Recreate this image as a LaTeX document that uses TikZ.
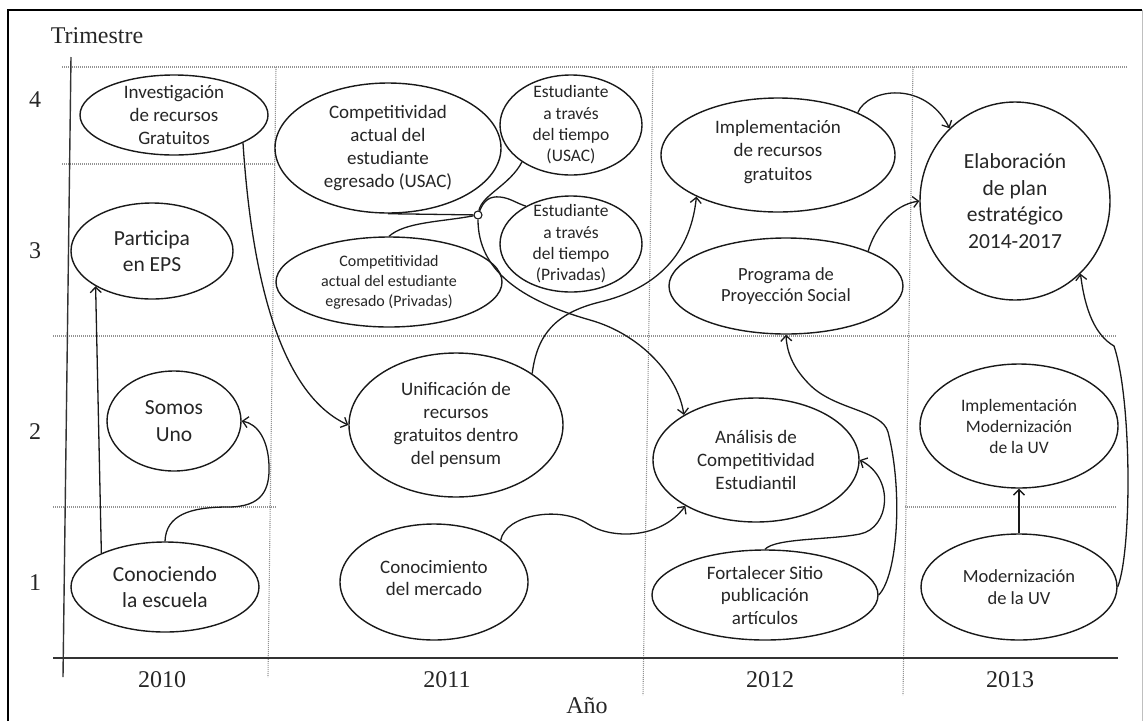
\documentclass[tikz,border=0pt]{standalone}
\usepackage{fontspec}
\setmainfont{Liberation Serif}
\newfontfamily\calfont{Carlito}
\usetikzlibrary{shapes.geometric,arrows.meta}

\begin{document}
\begin{tikzpicture}[x=1pt,y=-1pt,
  ell/.style={ellipse,draw=black!90,fill=white,line width=1.4pt,inner sep=0pt},
  txt/.style n args={2}{font=\calfont\fontsize{#1}{#2}\selectfont,align=center,inner sep=0pt,text=black!85},
  conn/.style={line width=1.3pt,black!90},
  arr/.style={conn,-{Straight Barb[length=5.5pt,width=11pt]}},
  gridline/.style={gray!85,line width=1.1pt,dash pattern=on 1pt off 1pt},
  axisline/.style={line width=1.4pt,black!80},
  axislab/.style={font=\fontsize{24}{28}\selectfont,inner sep=0pt,text=black!85}
]
\useasboundingbox (0,0) rectangle (1144,721);

% outer frame
\draw[line width=2.5pt] (8,721) -- (8,10) -- (1142,10);
\draw[gray!50,line width=1pt] (1142,10) -- (1142,721);

% quarter / year grid
\draw[gridline] (62,67) -- (1127,67);
\draw[gridline] (62,164) -- (276,164);
\draw[gridline] (53,336) -- (1117,336);
\draw[gridline] (53,507) -- (277,507);
\draw[gridline] (905,507) -- (1117,507);
\draw[gridline] (276,67) -- (268,677);
\draw[gridline] (653,67) -- (643,695);
\draw[gridline] (913,67) -- (903,695);

% axes
\draw[axisline] (71,57) -- (63,677);
\draw[axisline] (53,658) -- (1118,658);

% axis labels
\node[axislab] (ttri) at (97,36) {Trimestre};
\node[axislab] (q4) at (35,100) {4};
\node[axislab] (q3) at (35,251) {3};
\node[axislab] (q2) at (35,432) {2};
\node[axislab] (q1) at (35,583) {1};
\node[axislab] (y10) at (162,680) {2010};
\node[axislab] (y11) at (447,680) {2011};
\node[axislab] (y12) at (770,680) {2012};
\node[axislab] (y13) at (1010,680) {2013};
\node[axislab] (tano) at (587,706) {Año};

% activities
\node[ell,minimum width=188pt,minimum height=80pt] (inv) at (174,115) {};
\node[txt={19}{23}] (inv-t) at (inv) {Investigación\\de recursos\\Gratuitos};
\node[ell,minimum width=162pt,minimum height=96pt] (eps) at (152,251) {};
\node[txt={21.5}{26.5}] (eps-t) at (eps) {Participa\\en EPS};
\node[ell,minimum width=134pt,minimum height=100pt] (su) at (174,421) {};
\node[txt={21.5}{26.5}] (su-t) at (su) {Somos\\Uno};
\node[ell,minimum width=188pt,minimum height=90pt] (ce) at (165,587) {};
\node[txt={21.5}{26.5}] (ce-t) at (ce) {Conociendo\\la escuela};

\node[ell,minimum width=226pt,minimum height=130pt] (cu) at (388,148) {};
\node[txt={19}{23.3}] (cu-t) at (cu) {Competitividad\\actual del\\estudiante\\egresado (USAC)};
\node[ell,minimum width=142pt,minimum height=100pt] (eu) at (571,125) {};
\node[txt={17.5}{21.3}] (eu-t) at (eu) {Estudiante\\a través\\del tiempo\\(USAC)};
\node[ell,minimum width=142pt,minimum height=96pt] (ep) at (571,244) {};
\node[txt={17.5}{21.3}] (ep-t) at (ep) {Estudiante\\a través\\del tiempo\\(Privadas)};
\node[ell,minimum width=226pt,minimum height=90pt] (cp) at (389,282) {};
\node[txt={16}{20}] (cp-t) at (cp) {Competitividad\\actual del estudiante\\egresado (Privadas)};
\node[ell,minimum width=214pt,minimum height=144pt] (uni) at (456,425) {};
\node[txt={19}{23}] (uni-t) at (uni) {Unificación de\\recursos\\gratuitos dentro\\del pensum};
\node[ell,minimum width=188pt,minimum height=116pt] (cm) at (434,582) {};
\node[txt={19}{21.7}] (cm-t) at (434,578) {Conocimiento\\del mercado};

\node[ell,minimum width=234pt,minimum height=114pt] (imp) at (778,155) {};
\node[txt={19}{23.3}] (imp-t) at (778,152) {Implementación\\de recursos\\gratuitos};
\node[ell,minimum width=234pt,minimum height=96pt] (pps) at (786,286) {};
\node[txt={18.5}{21.7}] (pps-t) at (pps) {Programa de\\Proyección Social};
\node[ell,minimum width=206pt,minimum height=124pt] (ana) at (756,460) {};
\node[txt={19}{23}] (ana-t) at (ana) {Análisis de\\Competitividad\\Estudiantil};
\node[ell,minimum width=226pt,minimum height=90pt] (fs) at (765,595) {};
\node[txt={19}{22.5}] (fs-t) at (fs) {Fortalecer Sitio\\publicación\\artículos};

\node[ell,minimum width=190pt,minimum height=198pt] (pe) at (1015,201) {};
\node[txt={21.5}{26.7}] (pe-t) at (pe) {Elaboración\\de plan\\estratégico\\2014-2017};
\node[ell,minimum width=198pt,minimum height=124pt] (imo) at (1019,426) {};
\node[txt={17.5}{21}] (imo-t) at (imo) {Implementación\\Modernización\\de la UV};
\node[ell,minimum width=196pt,minimum height=106pt] (mo) at (1019,587) {};
\node[txt={18.5}{21.7}] (mo-t) at (mo) {Modernización\\de la UV};

% junction of the competitiveness studies
\node[circle,draw=black!90,fill=white,line width=1.1pt,minimum size=8pt,inner sep=0pt] (J) at (478,215) {};

% links
\draw[arr] (ce.152) -- (eps.212);
\draw[arr] (ce.north) .. controls (166,515) and (190,507) .. (228,507)
  .. controls (262,507) and (270,490) .. (269,465)
  .. controls (268,440) and (258,424) .. (su.east);
\draw[arr] (inv.-22) .. controls (250,250) and (272,390) .. (uni.west);

\draw[conn] (cu.south) .. controls (430,214) .. (J);
\draw[conn] (J) .. controls (440,222) and (405,222) .. (cp.north);
\draw[conn] (J) .. controls (482,195) and (510,185) .. (eu.217);
\draw[conn] (J) .. controls (484,200) and (490,196) .. (500,197)
  .. controls (510,198) and (516,203) .. (ep.140);
\draw[arr] (J) .. controls (478,270) and (520,300) .. (590,320)
  .. controls (640,334) and (678,375) .. (ana.148);

\draw[arr] (uni.34) .. controls (537,335) and (555,313) .. (600,302)
  .. controls (650,290) and (690,260) .. (imp.207);
\draw[arr] (cm.32) .. controls (505,515) and (560,505) .. (588,524)
  .. controls (610,539) and (660,540) .. (ana.213);
\draw[arr] (fs.north) .. controls (775,538) and (830,540) .. (860,534)
  .. controls (890,528) and (895,478) .. (ana.east);
\draw[arr] (fs.east) .. controls (898,575) and (903,490) .. (888,432)
  .. controls (882,410) and (835,410) .. (810,385)
  .. controls (795,370) and (787,355) .. (pps.south);

\draw[arr] (imp.28) .. controls (868,88) and (925,80) .. (pe.132);
\draw[arr] (pps.23) .. controls (875,228) and (893,205) .. (pe.west);
\draw[arr] (mo.east) .. controls (1132,550) and (1132,400) .. (1114,346)
  .. controls (1095,335) and (1085,310) .. (pe.-48);
\draw[arr] (mo.north) -- (imo.south);

\end{tikzpicture}
\end{document}
